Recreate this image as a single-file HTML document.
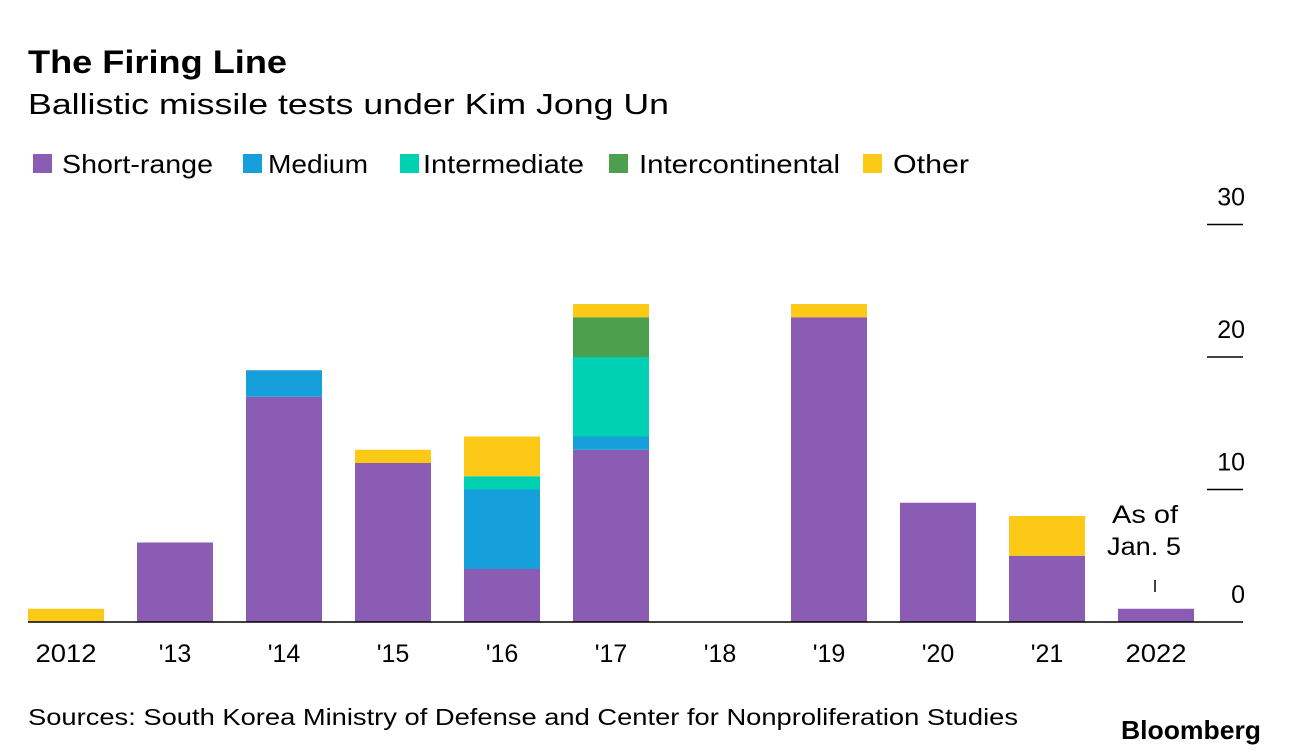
<!DOCTYPE html>
<html><head><meta charset="utf-8"><style>
body{margin:0;background:#fff;font-family:"Liberation Sans",sans-serif;}
#c{position:relative;width:1289px;height:756px;overflow:hidden}
</style></head><body>
<div id="c">
<svg id="s" width="1289" height="756">
<text x="28" y="73" font-size="32" font-weight="bold" fill="#000" textLength="259" lengthAdjust="spacingAndGlyphs">The Firing Line</text>
<text x="28" y="114" font-size="29" fill="#000" textLength="641" lengthAdjust="spacingAndGlyphs">Ballistic missile tests under Kim Jong Un</text>
<text x="28" y="725" font-size="23" fill="#000" textLength="990" lengthAdjust="spacingAndGlyphs">Sources: South Korea Ministry of Defense and Center for Nonproliferation Studies</text>
<text x="1121" y="739" font-size="26" font-weight="bold" fill="#000" textLength="140" lengthAdjust="spacingAndGlyphs">Bloomberg</text>
<text x="1112" y="523" font-size="25" fill="#000" textLength="66" lengthAdjust="spacingAndGlyphs">As of</text>
<text x="1107" y="555" font-size="25" fill="#000" textLength="74" lengthAdjust="spacingAndGlyphs">Jan. 5</text>
<line x1="1155" y1="580" x2="1155" y2="592" stroke="#000" stroke-width="1.5"/>
<g id="legend"></g><g id="bars"></g><g id="axis"></g>
</svg></div>
<script>
const categories=["2012","'13","'14","'15","'16","'17","'18","'19","'20","'21","2022"];
const shortRange=[0,6,17,12,4,13,0,23,9,5,1];
const medium=[0,0,2,0,6,1,0,0,0,0,0];
const intermediate=[0,0,0,0,1,6,0,0,0,0,0];
const intercontinental=[0,0,0,0,0,3,0,0,0,0,0];
const other=[1,0,0,1,3,1,0,1,0,3,0];
const yTicks=[0,10,20,30];
const seriesNames=["Short-range","Medium","Intermediate","Intercontinental","Other"];
const colors=["#8a5cb3","#159fdb","#00d1b2","#4ca04d","#fcc916"];
const ns="http://www.w3.org/2000/svg";
const base=622,unit=13.25,x0=28,step=109,bw=76;
const y=v=>base-v*unit, x=i=>x0+i*step;
const series=[shortRange,medium,intermediate,intercontinental,other];
const bars=document.getElementById('bars');
categories.forEach((c,i)=>{
  let acc=0;
  series.forEach((s,k)=>{
    if(s[i]>0){
      const r=document.createElementNS(ns,'rect');
      r.setAttribute('x',x(i));r.setAttribute('width',bw);
      r.setAttribute('y',y(acc+s[i]));r.setAttribute('height',s[i]*unit);
      r.setAttribute('fill',colors[k]);
      
      
      bars.appendChild(r);acc+=s[i];
    }
  });
  const t=document.createElementNS(ns,'text');
  t.setAttribute('x',x(i)+bw/2);t.setAttribute('y',662);t.setAttribute('font-size','25');
  t.setAttribute('text-anchor','middle');t.textContent=c;
  if(c.length==4){t.setAttribute('textLength','61');t.setAttribute('lengthAdjust','spacingAndGlyphs');}
  
  
  bars.appendChild(t);
});
const ax=document.getElementById('axis');
const bl=document.createElementNS(ns,'line');
bl.setAttribute('x1',28);bl.setAttribute('x2',1243);bl.setAttribute('y1',base);bl.setAttribute('y2',base);
bl.setAttribute('stroke','#000');bl.setAttribute('stroke-width','1.5');


ax.appendChild(bl);
yTicks.forEach(v=>{
  if(v>0){const l=document.createElementNS(ns,'line');
  l.setAttribute('x1',1207);l.setAttribute('x2',1243);l.setAttribute('y1',y(v));l.setAttribute('y2',y(v));
  l.setAttribute('stroke','#000');l.setAttribute('stroke-width','1.5');
  
  
  ax.appendChild(l);}
  const t=document.createElementNS(ns,'text');
  t.setAttribute('x',1245);t.setAttribute('y',y(v)-19);t.setAttribute('font-size','25');
  t.setAttribute('text-anchor','end');t.textContent=v;
  
  
  ax.appendChild(t);
});
const lg=document.getElementById('legend');
const sx=[33,243,400,609,863];
const tx=[62,268,423,639,893];
const tw=[151,100,161,201,76];
seriesNames.forEach((n,k)=>{
  const r=document.createElementNS(ns,'rect');
  r.setAttribute('x',sx[k]);r.setAttribute('y',154);r.setAttribute('width',19);r.setAttribute('height',19);
  r.setAttribute('fill',colors[k]);
  
  
  lg.appendChild(r);
  const t=document.createElementNS(ns,'text');
  t.setAttribute('x',tx[k]);t.setAttribute('y',173);t.setAttribute('font-size','26');t.textContent=n;
  t.setAttribute('textLength',tw[k]);t.setAttribute('lengthAdjust','spacingAndGlyphs');
  
  
  lg.appendChild(t);
});
</script>
</body></html>
